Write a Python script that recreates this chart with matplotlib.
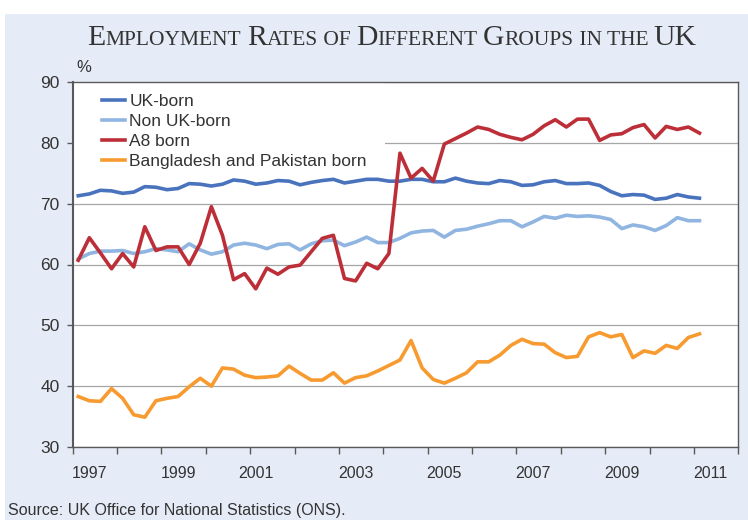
import numpy as np
import matplotlib
matplotlib.use('Agg')
import matplotlib.pyplot as plt
from matplotlib.patches import Rectangle

# quarterly data, 1997 Q1 - 2011 Q1
uk_born = [71.3, 71.6, 72.2, 72.1, 71.7, 71.9, 72.8, 72.7, 72.3, 72.5,
           73.3, 73.2, 72.9, 73.2, 73.9, 73.7, 73.2, 73.4, 73.8, 73.7,
           73.1, 73.5, 73.8, 74.0, 73.4, 73.7, 74.0, 74.0, 73.7, 73.7,
           74.0, 74.0, 73.6, 73.6, 74.2, 73.7, 73.4, 73.3, 73.8, 73.6,
           73.0, 73.1, 73.6, 73.8, 73.3, 73.3, 73.4, 73.0, 72.0, 71.3,
           71.5, 71.4, 70.7, 70.9, 71.5, 71.1, 70.9]
non_uk_born = [60.9, 61.8, 62.2, 62.2, 62.3, 61.8, 62.1, 62.6, 62.4, 62.1,
               63.4, 62.4, 61.7, 62.1, 63.2, 63.5, 63.2, 62.6, 63.3, 63.4,
               62.4, 63.4, 63.9, 64.0, 63.1, 63.7, 64.5, 63.6, 63.6, 64.3,
               65.2, 65.5, 65.6, 64.5, 65.6, 65.8, 66.3, 66.7, 67.2, 67.2,
               66.2, 67.0, 67.9, 67.6, 68.1, 67.9, 68.0, 67.8, 67.4, 65.9,
               66.5, 66.2, 65.6, 66.4, 67.7, 67.2, 67.2]
a8_born = [60.7, 64.4, 61.9, 59.3, 61.8, 59.6, 66.2, 62.3, 62.9, 62.9,
           60.0, 63.5, 69.5, 64.8, 57.5, 58.5, 56.0, 59.4, 58.4, 59.6,
           59.9, 62.1, 64.3, 64.8, 57.7, 57.3, 60.2, 59.3, 61.8, 78.3,
           74.2, 75.8, 73.7, 79.8, 80.7, 81.6, 82.6, 82.2, 81.4, 80.9,
           80.5, 81.4, 82.8, 83.8, 82.6, 83.9, 83.9, 80.4, 81.3, 81.5,
           82.5, 83.0, 80.8, 82.7, 82.2, 82.6, 81.6]
bd_pk_born = [38.3, 37.6, 37.5, 39.6, 38.0, 35.3, 34.9, 37.6, 38.0, 38.3,
              39.9, 41.3, 40.0, 43.0, 42.8, 41.8, 41.4, 41.5, 41.7, 43.3,
              42.1, 41.0, 41.0, 42.2, 40.5, 41.4, 41.7, 42.5, 43.4, 44.3,
              47.5, 43.0, 41.1, 40.5, 41.3, 42.2, 44.0, 44.0, 45.1, 46.7,
              47.7, 47.0, 46.9, 45.5, 44.7, 44.9, 48.1, 48.8, 48.1, 48.5,
              44.7, 45.8, 45.4, 46.7, 46.2, 48.0, 48.6]

year_labels = ['1997', '1999', '2001', '2003', '2005', '2007', '2009', '2011']
year_label_pos = [1, 9, 16, 25, 33, 41, 49, 57]

W, H = 748, 520
fig = plt.figure(figsize=(W / 100, H / 100), dpi=100)
fig.patch.set_facecolor('white')
fig.add_artist(Rectangle((5 / W, 0), 1, (H - 14) / H, transform=fig.transFigure,
                         facecolor='#e6ecf7', edgecolor='none', zorder=0))

left, right, top, bottom = 72.7, 738.3, 82, 447
ax = fig.add_axes([left / W, 1 - bottom / H, (right - left) / W, (bottom - top) / H])
ax.set_facecolor('white')

x = np.arange(len(uk_born))
ax.plot(x, uk_born, color='#4a73bd', lw=2.6, label='UK-born', zorder=3)
ax.plot(x, non_uk_born, color='#8fb5e0', lw=2.6, label='Non UK-born', zorder=2)
ax.plot(x, a8_born, color='#bd2f38', lw=2.6, label='A8 born', zorder=4)
ax.plot(x, bd_pk_born, color='#f79b30', lw=2.6, label='Bangladesh and Pakistan born', zorder=2)

ax.set_xlim(-0.5, 59.5)
ax.set_ylim(30, 90)
ax.set_yticks(range(30, 91, 10))
ax.set_xticks(np.arange(-0.5, 60, 4))
ax.set_xticklabels([])
ax.set_xticks(year_label_pos, minor=True)
ax.set_xticklabels(year_labels, minor=True)
ax.tick_params(axis='x', which='major', length=5, width=1, color='#595959', direction='out')
ax.tick_params(axis='x', which='minor', length=0, pad=14, labelsize=11.5, labelcolor='#333333')
ax.tick_params(axis='y', length=4.5, width=1, color='#595959', direction='out', pad=5,
               labelsize=12.5, labelcolor='#333333')
for lab in ax.get_xticklabels(minor=True) + ax.get_yticklabels():
    lab.set_fontfamily('Liberation Sans')

ax.yaxis.grid(True, color='#a6a6a6', lw=0.9)
ax.set_axisbelow(True)
for s in ax.spines.values():
    s.set_color('#595959')
    s.set_linewidth(1.0)
ax.spines['left'].set_linewidth(1.5)

# white legend area
ax.add_patch(Rectangle((left / W, 1 - 172 / H), (385 - left) / W, (172 - 83) / H,
                       transform=fig.transFigure, facecolor='white', edgecolor='none', zorder=1))
leg = ax.legend(loc='upper left', bbox_to_anchor=(102 / W, 1 - 94 / H),
                bbox_transform=fig.transFigure, frameon=False, borderpad=0,
                borderaxespad=0, handlelength=1.35, handletextpad=0.22,
                labelspacing=0.27, prop={'family': 'Liberation Sans', 'size': 12.5})
for t in leg.get_texts():
    t.set_color('#333333')

fig.text(84 / W, 1 - 68 / H, '%', ha='center', va='center', fontsize=12,
         family='Liberation Sans', color='#333333')
fig.text(8 / W, 1 - 510 / H, 'Source: UK Office for National Statistics (ONS).',
         ha='left', va='center', fontsize=11.5, family='Liberation Sans', color='#333333')

# small-caps title
pieces = [('E', 1), ('MPLOYMENT', 0), (' ', 0), ('R', 1), ('ATES', 0), (' OF ', 0),
          ('D', 1), ('IFFERENT', 0), (' ', 0), ('G', 1), ('ROUPS', 0), (' IN THE ', 0),
          ('UK', 1)]
big, small = 21.4, 15.5
renderer = fig.canvas.get_renderer()
texts = []
widths = []
for s, b in pieces:
    t = fig.text(0, 1 - 45 / H, s, fontsize=big if b else small, family='Liberation Serif',
                 color='#333333', ha='left', va='baseline')
    texts.append(t)
    widths.append(t.get_window_extent(renderer).width)
total = sum(widths)
xpos = 392 - total / 2
for t, w in zip(texts, widths):
    t.set_x(xpos / W)
    xpos += w

fig.savefig('out.png', dpi=100, facecolor=fig.get_facecolor())
